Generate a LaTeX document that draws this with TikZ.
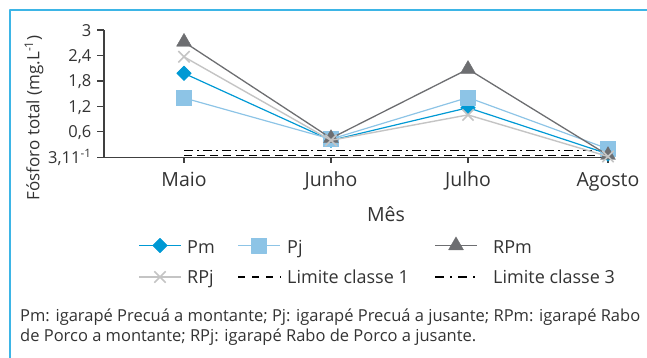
\documentclass[tikz,border=0pt]{standalone}
\usepackage{fontspec}
\setmainfont{Open Sans}
\usetikzlibrary{plotmarks}
\definecolor{pmblue}{RGB}{0,153,212}
\definecolor{pjblue}{RGB}{141,196,230}
\definecolor{rpmgray}{RGB}{109,110,113}
\definecolor{rpjgray}{RGB}{196,196,196}
\definecolor{framecol}{RGB}{61,181,230}
\definecolor{txtgray}{RGB}{51,51,51}
\definecolor{axisgray}{RGB}{64,64,64}
\begin{document}
\begin{tikzpicture}[x=1pt,y=-1pt,line join=round]
        \tikzset{every node/.style={text=txtgray,inner sep=0pt},
          ticklab/.style={font=\fontsize{16.5}{18}\selectfont},
          monthlab/.style={font=\fontsize{19.5}{21}\selectfont,anchor=base},
          leglab/.style={font=\fontsize{18}{20}\selectfont,anchor=base west},
          pm/.style={pmblue,line width=1.2pt,mark=square*,mark size=5.2pt,
            mark options={rotate=45,draw=pmblue,fill=pmblue,line width=0.4pt}},
          pj/.style={pjblue,line width=1.2pt,mark=square*,mark size=7.6pt,
            mark options={draw=pjblue,fill=pjblue,line width=0.4pt}},
          rpm/.style={rpmgray,line width=1.3pt,mark=triangle*,mark size=8.6pt,
            mark options={draw=rpmgray,fill=rpmgray,line width=0.4pt}},
          rpj/.style={rpjgray,line width=1.4pt,mark=x,mark size=8pt,
            mark options={draw=rpjgray,line width=1.6pt}},
          lim1/.style={black,line width=1.3pt,dash pattern=on 8pt off 5pt},
          lim3/.style={black,line width=1.3pt,dash pattern=on 9pt off 4pt on 2pt off 4pt},
          legmark/.style={mark indices={2}}}
        \useasboundingbox (0,0) rectangle (647,358);
        \draw[framecol,line width=2pt] (10,358)--(10,10)--(647,10);
        % axes
        \draw[axisgray,line width=1.2pt] (104,30)--(104,157.3)--(610,157.3);
        \foreach \v/\lab in {0/{3,11\textsuperscript{-1}},0.6/{0,6},1.2/{1,2},1.8/{1,8},2.4/{2,4},3/3}
        \draw[axisgray,line width=1.2pt] (97,{157.3-42.4*\v})--(104,{157.3-42.4*\v})
          node[ticklab,anchor=base east] at (92,{163.3-42.4*\v}) {\lab};
        \foreach \x/\m in {184/Maio,331/Junho,468/Julho,608/Agosto}
        \draw[axisgray,line width=1.2pt] (\x,157.3)--(\x,163)
          node[monthlab] at (\x,186) {\m};
        \node[monthlab] (mes) at (386,221) {Mês};
        \node[rotate=90,font=\fontsize{17}{19}\selectfont] (ylab) at (34,118) {Fósforo total (mg.L\textsuperscript{-1})};
        % limits and series
        \begin{scope}[shift={(0,157.3)},y=42.4pt]
            \draw[lim1] (184,0.05)--(608,0.05);
            \draw[lim3] (184,0.155)--(608,0.155);
            \draw[pm] plot coordinates {(184,1.98) (331,0.4) (468,1.17) (608,0.08)};
            \draw[pj] plot coordinates {(184,1.4) (331,0.43) (468,1.41) (608,0.2)};
            \draw[rpm] plot coordinates {(184,2.72) (331,0.45) (468,2.08) (608,0.05)};
            \draw[rpj] plot coordinates {(184,2.37) (331,0.4) (468,1.0) (608,0.02)};
        \end{scope}
        % legend
        \draw[pm,legmark] plot coordinates {(139,245.5) (160,245.5) (181,245.5)};
        \node[leglab] (lgpm) at (187,253.3) {Pm};
        \draw[pj,legmark] plot coordinates {(238,245.5) (259,245.5) (280,245.5)};
        \node[leglab] (lgpj) at (287,253.3) {Pj};
        \draw[rpm,legmark] plot coordinates {(435,245.5) (456,245.5) (477,245.5)};
        \node[leglab] (lgrpm) at (493,253.3) {RPm};
        \draw[rpj,legmark] plot coordinates {(139,277) (160,277) (181,277)};
        \node[leglab] (lgrpj) at (187,283.3) {RPj};
        \draw[lim1,dash pattern=on 7pt off 7pt] (238,277)--(281,277);
        \node[leglab] (lglim1) at (287,283.3) {Limite classe 1};
        \draw[lim3,dash pattern=on 9pt off 6pt on 2pt off 6pt] (435,277)--(477,277);
        \node[leglab] (lglim3) at (493,283.3) {Limite classe 3};
        % note
        \node[anchor=base west,align=left,font=\fontsize{16.5}{19.5}\selectfont] (nota) at (20,341)
          {Pm: igarapé Precuá a montante; Pj: igarapé Precuá a jusante; RPm: igarapé Rabo\\de Porco a montante; RPj: igarapé Rabo de Porco a jusante.};
\end{tikzpicture}
\end{document}
